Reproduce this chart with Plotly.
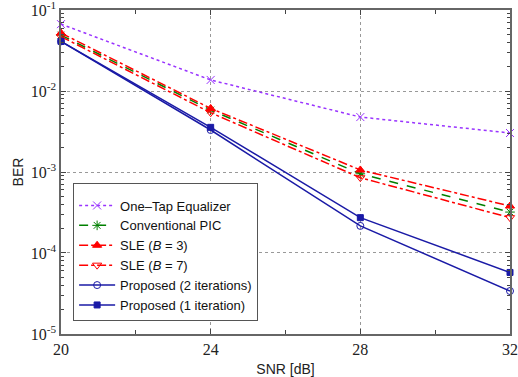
import plotly.graph_objects as go

snr = [20, 24, 28, 32]
one_tap = [0.067, 0.0137, 0.00477, 0.00303]
conv_pic = [0.049, 0.00582, 0.00095, 0.00032]
sle_b3 = [0.052, 0.0061, 0.00106, 0.00038]
sle_b7 = [0.047, 0.0054, 0.00085, 0.000273]
prop_2it = [0.041, 0.0033, 0.000216, 0.0000339]
prop_1it = [0.041, 0.00356, 0.000273, 0.0000575]

x_ticks = [20, 24, 28, 32]
x_minor = [22, 26, 30]
y_tickvals = [1e-5, 1e-4, 1e-3, 1e-2, 1e-1]
y_ticktext = ["10<sup>-5</sup>", "10<sup>-4</sup>", "10<sup>-3</sup>", "10<sup>-2</sup>", "10<sup>-1</sup>"]
y_minor = [m * 10.0 ** e for e in range(-5, -1) for m in range(2, 10)]

series = [
    ("One\u2013Tap Equalizer", one_tap, "#9933ff", "dot", "x-thin-open", 8),
    ("Conventional PIC", conv_pic, "#008000", "dash", "asterisk-open", 8),
    ("SLE (<i>B</i> = 3)", sle_b3, "#ff0000", "dashdot", "triangle-up", 8),
    ("SLE (<i>B</i> = 7)", sle_b7, "#ff0000", "dashdot", "triangle-down-open", 8),
    ("Proposed (2 iterations)", prop_2it, "#1a1aa6", "solid", "circle-open", 7),
    ("Proposed (1 iteration)", prop_1it, "#1a1aa6", "solid", "square", 6),
]

fig = go.Figure()
for name, vals, color, dash, sym, size in series:
    fig.add_trace(go.Scatter(
        x=snr, y=vals, name=name, mode="lines+markers",
        line=dict(color=color, dash=dash, width=1.5),
        marker=dict(symbol=sym, size=size, color=color,
                    line=dict(color=color, width=1)),
        cliponaxis=False,
    ))

serif = "Liberation Serif, Times New Roman, serif"
sans = "Liberation Sans, Arial, sans-serif"

axis_common = dict(
    showline=True, linecolor="#666666", linewidth=1.5, mirror="ticks",
    ticks="inside", ticklen=5, tickcolor="#444444",
    showgrid=True, gridcolor="#999999", griddash="dot", gridwidth=1,
    zeroline=False, automargin=False, ticklabeloverflow="allow",
    tickfont=dict(family=serif, size=16, color="#222222"),
    title_font=dict(family=sans, size=14, color="#222222"),
)

fig.update_xaxes(
    range=[20, 32], tickvals=x_ticks, ticktext=[str(v) for v in x_ticks],
    title_text="SNR [dB]", title_standoff=8,
    minor=dict(ticks="inside", ticklen=4, tickvals=x_minor, tickcolor="#444444", showgrid=False),
    **axis_common,
)
fig.update_yaxes(
    type="log", range=[-5.0005, -0.9995], tickvals=y_tickvals, ticktext=y_ticktext,
    title_text="BER", title_standoff=4,
    minor=dict(ticks="inside", ticklen=3, tickvals=y_minor, tickcolor="#444444", showgrid=False),
    **axis_common,
)

fig.update_layout(
    width=518, height=377,
    margin=dict(l=61, r=8, t=10, b=43),
    plot_bgcolor="white", paper_bgcolor="white",
    legend=dict(
        x=0.027, y=0.466, xanchor="left", yanchor="top",
        bgcolor="white", bordercolor="#555555", borderwidth=1,
        font=dict(family=sans, size=13, color="#111111"),
        tracegroupgap=0, itemwidth=36,
        title=dict(text=" ", font=dict(size=5)),
    ),
    showlegend=True,
)

fig.write_html(
    "out.html",
    config={"displayModeBar": False},
    post_script="document.body.style.margin='0';document.body.style.overflow='hidden';",
)
